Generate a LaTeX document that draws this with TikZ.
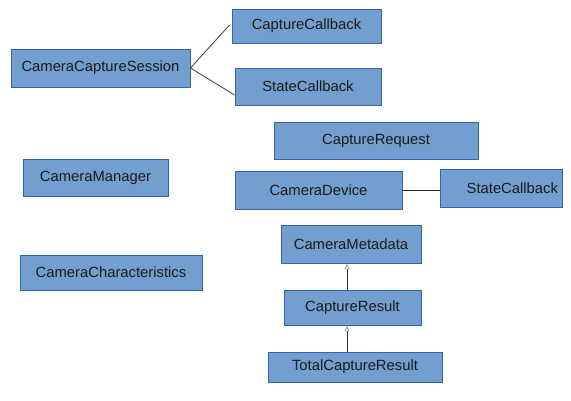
\documentclass[tikz,border=0pt]{standalone}
\usepackage{fontspec}
\setmainfont{Liberation Sans}
\usetikzlibrary{arrows.meta,calc}
\definecolor{boxfill}{HTML}{729FCF}
\definecolor{boxline}{HTML}{3465A4}
\definecolor{txt}{HTML}{1A1A1A}
\begin{document}
\begin{tikzpicture}[x=1pt,y=-1pt,
  box/.style={draw=boxline, fill=boxfill, line width=0.9pt, text=txt,
    font=\fontsize{14.8}{17}\selectfont, inner sep=0pt, anchor=center},
  conn/.style={draw=black!70, line width=0.9pt},
  inherit/.style={draw=black!80, line width=0.9pt,
    -{Triangle[open, length=6pt, width=5pt, color=black!35, fill=white]}}]
\useasboundingbox (0,0) rectangle (571,401);
\node[box, minimum width=179pt, minimum height=38pt] (ccs) at (100.5,68) {CameraCaptureSession};
\node[box, minimum width=149pt, minimum height=34pt] (ccb) at (306.5,26) {CaptureCallback};
\node[box, minimum width=146pt, minimum height=37pt] (scb1) at (308,86.5) {StateCallback};
\node[box, minimum width=204pt, minimum height=37pt] (creq) at (376,140.5) {CaptureRequest};
\node[box, minimum width=167pt, minimum height=38pt] (cdev) at (318.5,190) {CameraDevice};
\node[box, text width=114pt, inner xsep=4pt, align=right, minimum height=38pt] (scb2) at (501,188) {StateCallback};
\node[box, minimum width=145pt, minimum height=37pt] (cman) at (95.5,177.5) {CameraManager};
\node[box, minimum width=182pt, minimum height=35pt] (cchar) at (111,272.5) {CameraCharacteristics};
\node[box, minimum width=140pt, minimum height=38pt] (cmeta) at (351,244) {CameraMetadata};
\node[box, minimum width=137pt, minimum height=35pt] (cres) at (352.5,307.5) {CaptureResult};
\node[box, minimum width=174pt, minimum height=30pt] (tcres) at (355,367) {TotalCaptureResult};
\coordinate (ax) at (347,0);
\draw[conn] (ccs.east) -- ($(ccb.west)+(-2,-1)$);
\draw[conn] (ccs.east) -- ($(scb1.west)+(0,8.5)$);
\draw[conn, draw=black!85] (cdev.east) -- (scb2.west |- cdev.east);
\draw[inherit] (cres.north -| ax) -- (cmeta.south -| ax);
\draw[inherit] (tcres.north -| ax) -- (cres.south -| ax);
\end{tikzpicture}
\end{document}
